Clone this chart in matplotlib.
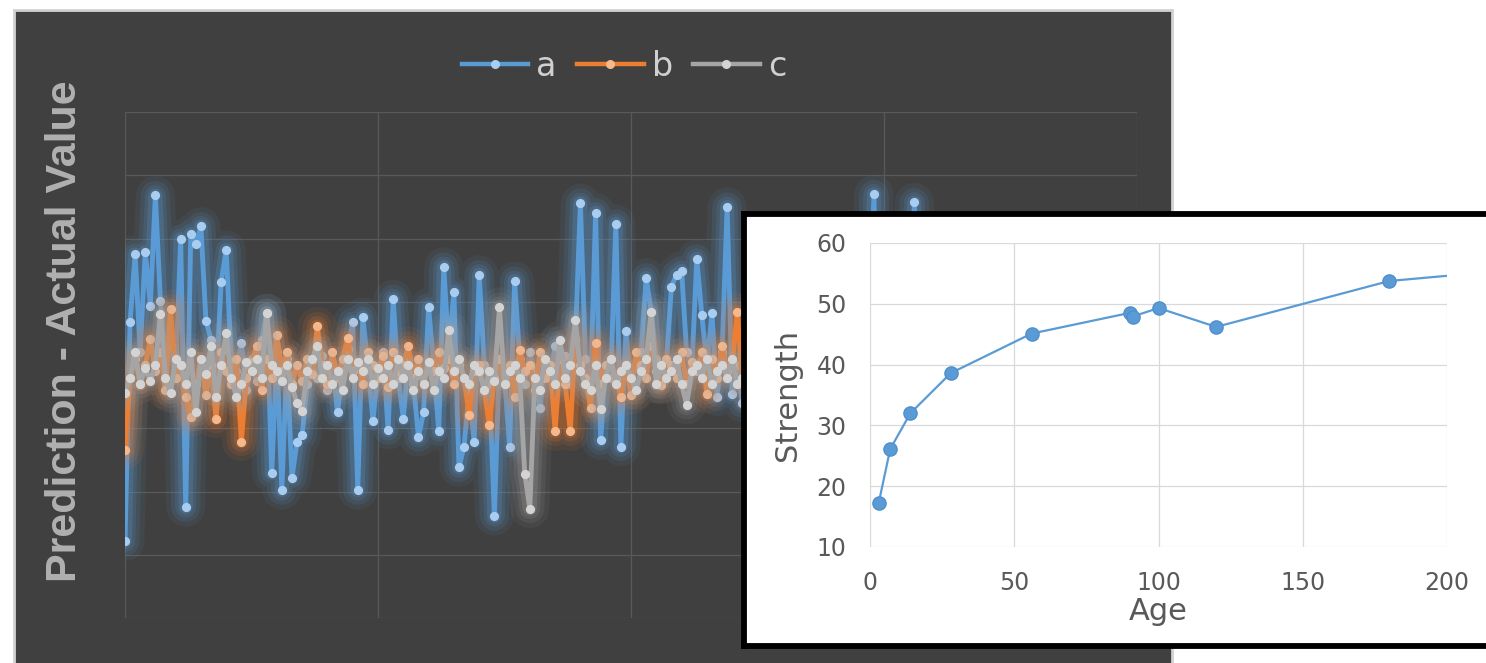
import numpy as np
import matplotlib
matplotlib.use("Agg")
import matplotlib.pyplot as plt
from matplotlib.lines import Line2D

# --------------------------------------------------------------------------
# Données : écart prédiction - valeur réelle pour trois modèles (a, b, c)
# --------------------------------------------------------------------------
serie_a = [
    -27.9, 6.8, 17.5, 2.0, 17.9, 9.4, 26.8, 10.1, 1.5, 3.0,
    -2.0, 19.9, -22.5, 20.7, 19.1, 21.9, 7.0, 4.0, -3.5, 13.1,
    18.2, 0.5, -1.0, 3.5, -4.0, 1.0, -2.5, 4.0, 8.2, -17.1,
    2.0, -19.8, 1.0, -17.8, -12.1, -11.1, -3.0, 0.5, -2.0, 1.5,
    -4.0, 0.0, -7.5, -1.0, 2.5, 6.8, -19.8, 7.6, 0.0, -8.8,
    -1.0, 2.0, -10.3, 10.4, -2.0, -8.5, 1.0, -3.0, -11.4, -7.5,
    9.1, 0.0, -10.5, 15.5, 2.0, 11.6, -16.2, -12.9, -4.0, -12.1,
    14.3, 0.0, -3.0, -23.9, 1.0, -2.0, -12.9, 13.3, 1.0, -3.0,
    2.0, -1.0, -6.8, 0.5, -2.0, 3.0, -1.0, 1.5, -3.0, 4.0,
    25.6, 1.0, -4.0, 24.1, -11.9, 0.0, -2.0, 22.3, -12.9, 5.3,
    -3.0, 0.0, 2.0, 13.8, 8.4, 1.0, -3.0, 0.5, 12.4, 14.3,
    14.9, 2.0, -1.0, 16.8, 7.9, 0.0, 8.2, -5.0, 2.0, 25.0,
    -4.6, 0.0, -6, 10, -3, 15, -12, 4, 18, -8,
    2, 12, -15, 6, -2, 20, -10, 3, 9, -18,
    5, 14, -4, 0, 11, -9, 16, -3, 27.0, -6,
    8, -13, 2, 17, -5, 4, 25.7, -8, 10, -2,
    -16, 7, 13, -4, 1, 19, -11, 5, -1, 12,
    -20, 3, 8, -6, 15, 0, -9, 6, 21, -3,
    2, -14, 9, -1, 16, -7, 4, 11, -12, 1,
    18, -5, 7, -2, 13, -17, 3, 10, -4, 6,
]
serie_b = [
    -13.4, -2, 1, -3, 0, 4.1, -1, 2, -4, 8.9,
    -2, 0, -5, -8.3, -3, 1, -4.7, 0, -8.5, 2,
    -1, -3, 1, -12.1, -2, 0.5, 3, -4, 1, -2,
    4.7, -1, 2, -3, 0, -2.5, 1, -1.5, 6.1, 0,
    -3, 2, -2, 1, 4.3, -1, 0.5, -3, 2, 0,
    -2, 1.5, -3.5, 2, -1, 0, 3, -2, 1, -3,
    0.5, -1, 2, -0.5, 1, -3, 0, -2, -7.9, -1,
    0, -4, -9.5, -2, 1, -3, 0, -5, 2.4, -1,
    0, -4, 2, -2, 0, -10.5, 1, -3, -10.5, 4,
    0, -2, -6.8, 3.4, -3, 0, 1, -2, -5, 0,
    -4.7, 2, 0, -2, 3, -1, -3.2, 1, 0, -2,
    2, -3, 0.5, -1, 2, -4.6, 1, -2, 3, -1,
    0, 8.4, -3, 2, -5, 1, -1, 4, -6, 0,
    3, -2, -8, 1, 2, -4, 0, 5, -3, -1,
    2, -5, 1, 3, -2, -7, 0, 4, -1, -3,
    2, 0, -5, 6, -2, 1, -4, 3, 0, -6,
    2, -1, 1, -3, 4, -2, -5, 0, 2, -1,
    3, -4, 1, -2, 0, 5, -3, -7, 1, 2,
    -1, -4, 3, 0, -2, 1, -5, 2, 4, -1,
    -3, 0, 2, -6, 1, 3, -2, 0, -4, 2,
]
serie_c = [
    -4.4, -2, 2, -3, -0.5, -2.5, 0, 8, -2, -4.5,
    1, 0, -3, 2, -7.4, 1, -1.5, 3, -5, 0,
    5, -2, -5, -3, 0.5, -1, 1, -2, 8.2, 0,
    -1, -2.5, 0, -3.5, -6, -7.2, -1, 1, 3, -2,
    0, -3, -1, -4, 1, -2, 0.5, -1, 1, -3,
    -0.5, -2, 0, -3, 1, -2, 0, -4, -1, -3,
    0.5, -4, -1, -2, 5.5, -1, 1, -2, -3, 0,
    -1, -4, -1, -2.5, 9.2, -3, -1, 0, -2, -17.2,
    -22.7, -2, -4, 1, -1, -3, 3.9, -2, 0, 7.1,
    -1, -3, -4, 0, -7, -2, 1, -3, -1, 0,
    -2, -4, -1, 1, 8.4, -3, 0, -2, -1, 1,
    -3, -6.3, -1, 0, -2, 1, -3, -1, 0, -2,
    1, -3, -2, 0, -4, 1, -1, -3, 2, -5,
    0, -2, 1, -3, -1, 3, -4, 0, -2, -6,
    1, -1, -3, 2, 0, -4, -1, 4, -2, -5,
    0, 1, -3, -1, 2, -4, 0, -2, 3, -6,
    -1, 0, -2, 1, -4, -1, 2, -3, 0, -5,
    1, -2, 0, -3, 3, -1, -4, 1, -2, 0,
    -6, 2, -1, -3, 0, 2, -4, -1, 1, -2,
    -5, 0, -2, 1, -3, 0, 2, -4, -1, -2,
]
noms_series = ["a", "b", "c"]

# Courbe de résistance en fonction de l'âge
age = [3, 7, 14, 28, 56, 90, 91, 100, 120, 180, 270]
resistance = [17.2, 26.1, 32.0, 38.6, 45.1, 48.5, 47.9, 49.3, 46.2, 53.75, 57.6]

W, H = 1486, 663


def rect_px(gauche, haut, droite, bas):
    # conversion d'un rectangle en pixels vers les coordonnées de la figure
    return [gauche / W, 1 - bas / H, (droite - gauche) / W, (bas - haut) / H]


fig = plt.figure(figsize=(W / 100, H / 100), dpi=100)
fig.patch.set_facecolor("white")

# Panneau sombre de fond
fond = fig.add_axes(rect_px(14, 10, 1172, 672))
fond.set_facecolor("#404040")
fond.set_xticks([])
fond.set_yticks([])
for sp in fond.spines.values():
    sp.set_color("#d2d2d2")
    sp.set_linewidth(2.0)

# Graphique principal
ax = fig.add_axes(rect_px(125, 112, 1137, 618))
ax.set_facecolor("none")
ax.set_xlim(0, 200)
ax.set_ylim(-40, 40)
ax.set_xticks(np.arange(0, 201, 50))
ax.set_yticks(np.arange(-40, 41, 10))
ax.grid(True, color="#595959", linewidth=0.9)
ax.tick_params(length=0, labelleft=False, labelbottom=False)
for sp in ax.spines.values():
    sp.set_visible(False)


def trace_serie(ax, y, couleur, couleur_marqueur, z):
    x = np.arange(len(y))
    # halo lumineux autour de la courbe
    for lw, alpha in [(28, 0.08), (21, 0.11), (15, 0.15), (10, 0.22)]:
        ax.plot(x, y, color=couleur, linewidth=lw, alpha=alpha,
                solid_joinstyle="round", solid_capstyle="round", zorder=z)
    ax.plot(x, y, color=couleur, linewidth=3.5, marker="o", markersize=5.6,
            markerfacecolor=couleur_marqueur, markeredgecolor=couleur_marqueur,
            solid_joinstyle="round", zorder=z + 0.5)


trace_serie(ax, serie_a, "#5b9bd5", "#a9cdf0", 3)
trace_serie(ax, serie_b, "#ed7d31", "#f7b88c", 4)
trace_serie(ax, serie_c, "#a5a5a5", "#d4d4d4", 5)

fig.text(65 / W, 1 - 331 / H, "Prediction - Actual Value", rotation=90,
         ha="center", va="center", fontsize=31, fontweight="bold",
         color="#b0b0b0", family="Liberation Sans")

poignees = [
    Line2D([], [], color="#5b9bd5", linewidth=3.2, marker="o", markersize=5.5,
           markerfacecolor="#a9cdf0", markeredgecolor="#a9cdf0"),
    Line2D([], [], color="#ed7d31", linewidth=3.2, marker="o", markersize=5.5,
           markerfacecolor="#f7b88c", markeredgecolor="#f7b88c"),
    Line2D([], [], color="#a5a5a5", linewidth=3.2, marker="o", markersize=5.5,
           markerfacecolor="#d4d4d4", markeredgecolor="#d4d4d4"),
]
fig.legend(poignees, noms_series, loc="center", bbox_to_anchor=(624 / W, 1 - 66 / H),
           ncol=3, frameon=False, fontsize=24, labelcolor="#d0d0d0",
           handlelength=2.0, handletextpad=0.25, columnspacing=0.6)

# Encadré : résistance en fonction de l'âge
cadre = fig.add_axes(rect_px(744, 214, 1500, 646))
cadre.set_facecolor("white")
cadre.set_xticks([])
cadre.set_yticks([])
for sp in cadre.spines.values():
    sp.set_color("black")
    sp.set_linewidth(4.2)

ax2 = fig.add_axes(rect_px(870, 243, 1447, 547))
ax2.set_facecolor("white")
ax2.plot(age, resistance, color="#5b9bd5", linewidth=1.6, marker="o",
         markersize=9.5, markerfacecolor="#5b9bd5", markeredgecolor="#4f8fcc",
         clip_on=True)
ax2.set_xlim(0, 200)
ax2.set_ylim(10, 60)
ax2.set_xticks(np.arange(0, 201, 50))
ax2.set_yticks(np.arange(10, 61, 10))
ax2.grid(True, color="#d9d9d9", linewidth=0.9)
ax2.set_axisbelow(True)
for sp in ax2.spines.values():
    sp.set_visible(False)
ax2.tick_params(length=0, labelsize=17, labelcolor="#595959", pad=17)
ax2.set_xlabel("Age", fontsize=22, color="#595959", labelpad=2)
ax2.set_ylabel("Strength", fontsize=22, color="#595959", labelpad=10)

fig.savefig("out.png", dpi=100)
